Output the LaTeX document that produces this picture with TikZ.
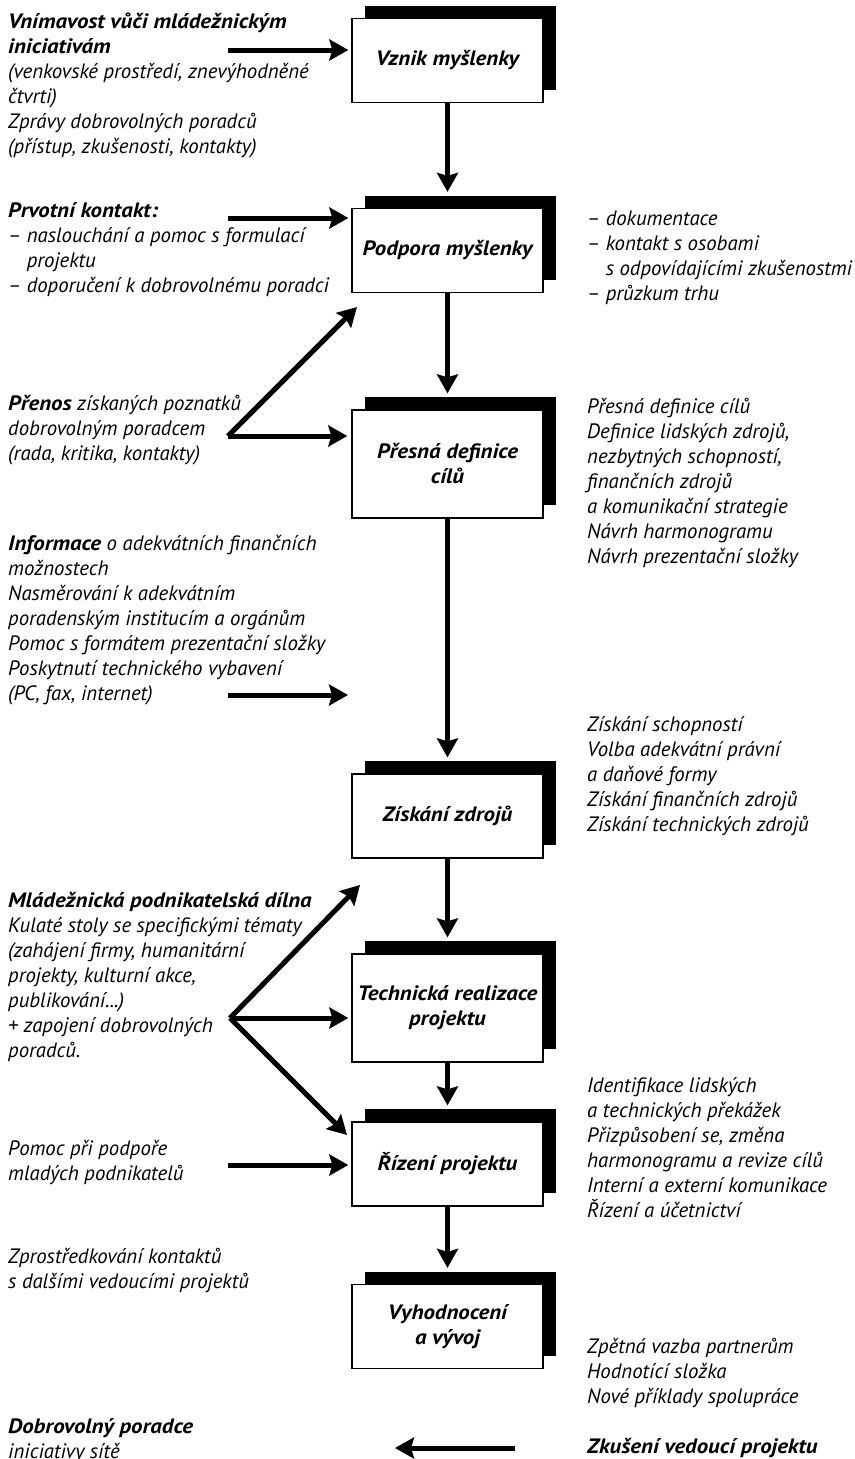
\documentclass[tikz,border=0pt]{standalone}
\usepackage{fontspec}
\setmainfont{PT Sans}[BoldItalicFeatures={FakeStretch=1.1}]
\usetikzlibrary{arrows.meta,shadows}

\begin{document}
\begin{tikzpicture}[x=1pt, y=-1pt,
	stage/.style={draw, line width=1.3pt, fill=white, minimum width=191pt, minimum height=84pt, inner sep=0pt, align=center,
		font=\fontsize{20.8}{25}\selectfont\bfseries\itshape,
		general shadow={shadow xshift=13pt, shadow yshift=13pt, fill=black}},
	tall/.style={minimum height=108pt},
	note/.style={anchor=base west, inner sep=0pt, align=left, font=\fontsize{20.8}{25}\selectfont\itshape},
	flow/.style={line width=5pt, -{Stealth[length=19pt, width=21pt, inset=3pt]}}]
	\useasboundingbox (0,0) rectangle (854,1459);

	% stages
	\node[stage] (vznik) at (447.5,60.5) {Vznik myšlenky};
	\node[stage] (podpora) at (447.5,250.5) {Podpora myšlenky};
	\node[stage, tall] (definice) at (447.5,464) {Přesná definice\\cílů};
	\node[stage] (zdroje) at (447.5,816) {Získání zdrojů};
	\node[stage, tall] (realizace) at (447.5,1008) {Technická realizace\\projektu};
	\node[stage] (rizeni) at (447.5,1164) {Řízení projektu};
	\node[stage] (vyhodnoceni) at (447.5,1326.5) {Vyhodnocení\\a vývoj};

	% left notes (placed by the baseline of their last line)
	\node[note] (vnimavost) at (8,153) {\textbf{Vnímavost vůči mládežnickým}\\\textbf{iniciativám}\\(venkovské prostředí, znevýhodněné\\čtvrti)\\Zprávy dobrovolných poradců\\(přístup, zkušenosti, kontakty)};
	\node[note] (prvotni) at (8,292) {\textbf{Prvotní kontakt:}\\– naslouchání a pomoc s formulací\\\phantom{– }projektu\\– doporučení k dobrovolnému poradci};
	\node[note] (prenos) at (8,460) {\textbf{Přenos} získaných poznatků\\dobrovolným poradcem\\(rada, kritika, kontakty)};
	\node[note] (informace) at (8,700) {\textbf{Informace} o adekvátních finančních\\možnostech\\Nasměrování k adekvátním\\poradenským institucím a orgánům\\Pomoc s formátem prezentační složky\\Poskytnutí technického vybavení\\(PC, fax, internet)};
	\node[note] (dilna) at (8,1057) {\textbf{Mládežnická podnikatelská dílna}\\Kulaté stoly se specifickými tématy\\(zahájení firmy, humanitární\\projekty, kulturní akce,\\publikování...)\\+ zapojení dobrovolných\\poradců.};
	\node[note] (pomoc) at (8,1180) {Pomoc při podpoře\\mladých podnikatelů};
	\node[note] (kontakty) at (8,1288) {Zprostředkování kontaktů\\s dalšími vedoucími projektů};
	\node[note] (poradce) at (8,1458) {\textbf{Dobrovolný poradce}\\iniciativy sítě};

	% right notes
	\node[note] (dokumentace) at (587,300) {– dokumentace\\– kontakt s osobami\\\phantom{– }s odpovídajícími zkušenostmi\\– průzkum trhu};
	\node[note] (cile) at (587,563) {Přesná definice cílů\\Definice lidských zdrojů,\\nezbytných schopností,\\finančních zdrojů\\a komunikační strategie\\Návrh harmonogramu\\Návrh prezentační složky};
	\node[note] (schopnosti) at (587,831) {Získání schopností\\Volba adekvátní právní\\a daňové formy\\Získání finančních zdrojů\\Získání technických zdrojů};
	\node[note] (prekazky) at (587,1217) {Identifikace lidských\\a technických překážek\\Přizpůsobení se, změna\\harmonogramu a revize cílů\\Interní a externí komunikace\\Řízení a účetnictví};
	\node[note] (zpetna) at (587,1403) {Zpětná vazba partnerům\\Hodnotící složka\\Nové příklady spolupráce};
	\node[note] (vedouci) at (587,1453) {\textbf{Zkušení vedoucí projektu}};

	% arrow ends
	\coordinate (vnimavostout) at (228,50);
	\coordinate (prvotniout) at (228,218);
	\coordinate (prenosout) at (228,436);
	\coordinate (prenosup) at (357,307);
	\coordinate (informaceout) at (228,695);
	\coordinate (informacein) at (348,695);
	\coordinate (dilnaout) at (230,1018);
	\coordinate (dilnaup) at (360,885);
	\coordinate (dilnadown) at (347,1135);
	\coordinate (pomocout) at (228,1165);
	\coordinate (vedouciout) at (515,1448);
	\coordinate (poradcein) at (395,1448);

	% main flow
	\draw[flow] (vznik.south) -- ([yshift=16pt]podpora.north);
	\draw[flow] (podpora.south) -- ([yshift=16pt]definice.north);
	\draw[flow] (definice.south) -- ([yshift=16pt]zdroje.north);
	\draw[flow] (zdroje.south) -- ([yshift=16pt]realizace.north);
	\draw[flow] (realizace.south) -- ([yshift=16pt]rizeni.north);
	\draw[flow] (rizeni.south) -- ([yshift=16pt]vyhodnoceni.north);

	% inputs
	\draw[flow, shorten >=3pt] (vnimavostout) -- (vznik.west |- vnimavostout);
	\draw[flow, shorten >=3pt] (prvotniout) -- (podpora.west |- prvotniout);
	\draw[flow, shorten >=4pt] (prenosout) -- (definice.west |- prenosout);
	\draw[flow] (prenosout) -- (prenosup);
	\draw[flow] (informaceout) -- (informacein);
	\draw[flow] (dilnaout) -- (dilnaup);
	\draw[flow, shorten >=3pt] (dilnaout) -- (realizace.west |- dilnaout);
	\draw[flow] (dilnaout) -- (dilnadown);
	\draw[flow, shorten >=3pt] (pomocout) -- (rizeni.west |- pomocout);
	\draw[flow] (vedouciout) -- (poradcein);
\end{tikzpicture}
\end{document}
